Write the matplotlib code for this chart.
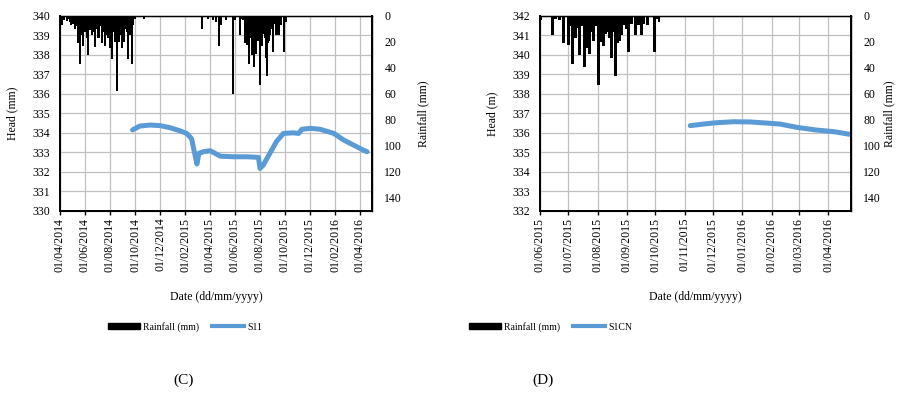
import matplotlib
matplotlib.use("Agg")
import matplotlib.pyplot as plt
import matplotlib.dates as mdates
from matplotlib.patches import Patch
from matplotlib.lines import Line2D
import pandas as pd

plt.rcParams["font.family"] = ["Liberation Serif", "DejaVu Serif"]
plt.rcParams["font.size"] = 8.5

# daily rainfall (mm), same record used by both panels
rain_dates = [
    "2014-04-02", "2014-04-05", "2014-04-11", "2014-04-17", "2014-04-21", "2014-04-25",
    "2014-04-29", "2014-05-03", "2014-05-08", "2014-05-12", "2014-05-16", "2014-05-20",
    "2014-05-24", "2014-05-28", "2014-06-01", "2014-06-05", "2014-06-09", "2014-06-13",
    "2014-06-17", "2014-06-21", "2014-06-26", "2014-06-30", "2014-07-04", "2014-07-08",
    "2014-07-12", "2014-07-16", "2014-07-20", "2014-07-24", "2014-07-28", "2014-08-01",
    "2014-08-05", "2014-08-09", "2014-08-13", "2014-08-18", "2014-08-22", "2014-08-26",
    "2014-08-30", "2014-09-03", "2014-09-07", "2014-09-11", "2014-09-15", "2014-09-19",
    "2014-09-23", "2014-09-27", "2014-10-01", "2014-10-22",
    "2015-03-13", "2015-03-29", "2015-04-10", "2015-04-16", "2015-04-23", "2015-04-29",
    "2015-05-11", "2015-05-28", "2015-06-02", "2015-06-14", "2015-06-17", "2015-06-22",
    "2015-06-26", "2015-07-01", "2015-07-03", "2015-07-05", "2015-07-07", "2015-07-09",
    "2015-07-11", "2015-07-13", "2015-07-15", "2015-07-18", "2015-07-20", "2015-07-23",
    "2015-07-25", "2015-07-28", "2015-07-30", "2015-08-02", "2015-08-04", "2015-08-05",
    "2015-08-07", "2015-08-09", "2015-08-11", "2015-08-13", "2015-08-16", "2015-08-18",
    "2015-08-20", "2015-08-22", "2015-08-24", "2015-08-26", "2015-08-28", "2015-08-31",
    "2015-09-03", "2015-09-06", "2015-09-10", "2015-09-13", "2015-09-16", "2015-09-19",
    "2015-09-23", "2015-09-30", "2015-10-03", "2015-10-05",
]
rain_mm = [
    11, 7, 3, 4, 2, 5,
    7, 6, 10, 8, 21, 37,
    15, 23, 12, 17, 30, 11,
    15, 12, 24, 10, 17, 8,
    21, 12, 23, 15, 17, 25,
    33, 12, 20, 58, 20, 15,
    25, 20, 10, 12, 33, 15,
    37, 7, 2, 2,
    10, 2, 3, 5, 23, 7,
    3, 60, 3, 15, 2, 3,
    21, 22, 8, 37, 8, 17,
    9, 30, 8, 39, 25, 29,
    12, 19, 8, 53, 20, 17,
    23, 14, 12, 17, 32, 12,
    46, 21, 19, 15, 7, 10,
    28, 6, 15, 7, 15, 6,
    7, 28, 2, 5,
]

# piezometer S11 head
s11_dates = [
    "2014-09-25", "2014-10-13", "2014-11-07", "2014-12-01", "2014-12-26", "2015-01-19",
    "2015-02-04", "2015-02-16", "2015-02-22", "2015-03-01", "2015-03-06", "2015-03-17",
    "2015-04-02", "2015-04-14", "2015-04-27", "2015-05-29", "2015-07-01", "2015-07-29",
    "2015-08-02", "2015-08-10", "2015-08-26", "2015-09-11", "2015-09-28", "2015-10-22",
    "2015-11-04", "2015-11-12", "2015-12-03", "2015-12-27", "2016-01-29", "2016-02-22",
    "2016-03-17", "2016-04-11", "2016-04-19",
]
s11_head = [
    334.15, 334.35, 334.40, 334.37, 334.26, 334.10,
    333.97, 333.70, 333.10, 332.40, 332.95, 333.03,
    333.08, 332.95, 332.80, 332.77, 332.77, 332.74,
    332.17, 332.35, 332.95, 333.55, 333.97, 334.00,
    333.97, 334.18, 334.23, 334.18, 333.97, 333.63,
    333.37, 333.10, 333.03,
]

# piezometer S1CN head
s1cn_dates = [
    "2015-11-07", "2015-11-21", "2015-12-05", "2015-12-23", "2016-01-09", "2016-01-27",
    "2016-02-10", "2016-02-28", "2016-03-20", "2016-04-07", "2016-04-24",
]
s1cn_head = [
    336.37, 336.45, 336.52, 336.57, 336.56, 336.50,
    336.45, 336.28, 336.14, 336.06, 335.92,
]

c_ticks = pd.date_range("2014-04-01", "2016-04-01", freq="2MS")
d_ticks = pd.date_range("2015-06-01", "2016-04-01", freq="MS")

BLUE = "#5b9bd5"
GRID = "#c0c0c0"


def draw_panel(fig, rect, dates, head, name, ylim, ylabel, xlim, xticks, bar_w,
               rain_lab_x, legend_x, tag, tag_x):
    ax = fig.add_axes(rect)
    ax.plot(pd.to_datetime(dates), head, color=BLUE, lw=3.6, solid_capstyle="round")
    ax.set_ylim(*ylim)
    ax.set_yticks(range(ylim[0], ylim[1] + 1))
    ax.set_xlim(pd.Timestamp(xlim[0]), pd.Timestamp(xlim[1]))
    ax.set_xticks(xticks)
    ax.xaxis.set_major_formatter(mdates.DateFormatter("%d/%m/%Y"))
    ax.tick_params(axis="x", rotation=90, length=3, width=1, pad=2)
    ax.tick_params(axis="y", length=0, pad=7)
    ax.grid(True, color=GRID, lw=0.9)
    ax.set_axisbelow(True)
    for s in ax.spines.values():
        s.set_color("black")
        s.set_linewidth(1.0)
    ax.spines["left"].set_linewidth(1.4)
    ax.spines["bottom"].set_linewidth(1.4)
    ax.set_ylabel(ylabel)
    ax.yaxis.set_label_coords(-0.135, 0.5)
    ax.set_xlabel("Date (dd/mm/yyyy)")
    ax.xaxis.set_label_coords(0.5, -0.41)

    ax2 = ax.twinx()
    ax2.bar(pd.to_datetime(rain_dates), rain_mm, width=bar_w, color="black", align="center")
    ax2.set_ylim(150, 0)
    ax2.set_yticks(range(0, 141, 20))
    ax2.tick_params(axis="y", length=0, pad=9)
    ax2.spines["right"].set_linewidth(1.4)
    ax2.set_ylabel("Rainfall (mm)", rotation=90)
    ax2.yaxis.set_label_coords(rain_lab_x, 0.5)
    ax2.set_xlim(pd.Timestamp(xlim[0]), pd.Timestamp(xlim[1]))

    handles = [Patch(facecolor="black", edgecolor="black"),
               Line2D([], [], color=BLUE, lw=3)]
    fig.legend(handles, ["Rainfall (mm)", name], loc="center",
               bbox_to_anchor=(legend_x, 0.17), ncol=2, frameon=False, fontsize=7,
               handlelength=3.3, handleheight=0.6, handletextpad=0.3, columnspacing=1.4)
    fig.text(tag_x, 0.035, tag, ha="center", va="center", fontsize=11)
    return ax


fig = plt.figure(figsize=(8.98, 3.94), dpi=100)

draw_panel(fig, [0.0668, 0.4652, 0.3474, 0.4942], s11_dates, s11_head, "S11",
           (330, 340), "Head (mm)", ("2014-04-01", "2016-05-01"), c_ticks, 5.0,
           1.145, 0.206, "(C)", 0.204)
draw_panel(fig, [0.6013, 0.4652, 0.3463, 0.4942], s1cn_dates, s1cn_head, "S1CN",
           (332, 342), "Head (m)", ("2015-06-01", "2016-04-25"), d_ticks, 3.0,
           1.105, 0.613, "(D)", 0.605)

fig.savefig("out.png", dpi=100)
